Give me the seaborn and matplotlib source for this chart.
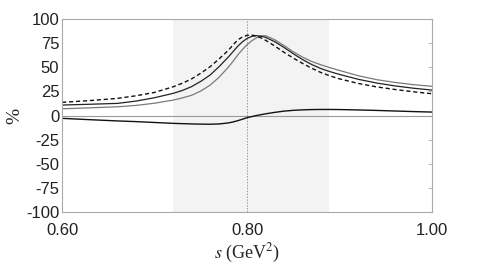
import matplotlib
matplotlib.use("Agg")
import matplotlib.pyplot as plt
import numpy as np
import pandas as pd
import seaborn as sns

# valeurs (s en GeV^2, valeurs en %)
s = [0.60, 0.63, 0.66, 0.68, 0.70, 0.72, 0.73, 0.74, 0.75, 0.76, 0.77,
     0.78, 0.785, 0.79, 0.795, 0.80, 0.805, 0.81, 0.815, 0.82, 0.83, 0.84,
     0.85, 0.86, 0.87, 0.88, 0.89, 0.90, 0.92, 0.94, 0.96, 0.98, 1.00]

dashed = [13.7, 15.5, 17.8, 20.5, 24.0, 29.8, 33.5, 38.0, 44.0, 50.6, 59.0,
          67.9, 73.5, 78.5, 81.5, 83.2, 83.4, 82.5, 80.5, 78.0, 72.0, 65.5,
          59.5, 54.0, 49.0, 44.5, 41.0, 38.0, 33.3, 29.7, 27.0, 24.6, 22.6]
black = [10.9, 11.7, 12.6, 15.0, 18.5, 23.0, 26.0, 30.0, 35.5, 42.0, 51.0,
         61.0, 66.5, 72.0, 76.5, 80.0, 82.0, 82.8, 82.3, 81.0, 76.5, 70.5,
         64.0, 58.0, 52.8, 48.6, 45.4, 42.6, 37.6, 33.7, 30.7, 28.3, 26.4]
grey = [7.0, 8.0, 9.1, 10.5, 12.8, 16.0, 18.3, 21.0, 25.5, 31.5, 40.0,
        50.5, 56.5, 63.0, 68.5, 73.5, 77.5, 80.5, 82.5, 82.8, 78.5, 72.5,
        66.0, 60.5, 56.0, 52.5, 49.5, 46.7, 41.3, 37.2, 34.3, 32.0, 30.3]
lower = [-2.9, -4.3, -5.6, -6.3, -7.2, -8.1, -8.4, -8.7, -8.9, -9.0, -8.7,
         -7.6, -6.6, -5.3, -3.8, -2.2, -1.1, 0.0, 0.9, 1.8, 3.3, 4.6,
         5.4, 5.9, 6.2, 6.3, 6.3, 6.2, 5.8, 5.3, 4.7, 4.1, 3.6]

band = (0.72, 0.888)
s_mark = 0.80
xticks = [0.60, 0.80, 1.00]
yticks = list(range(-100, 101, 25))

df = pd.DataFrame({"s": s, "dashed": dashed, "black": black,
                   "grey": grey, "lower": lower})

sns.set_style("white")
plt.rcParams["font.family"] = ["Liberation Sans", "DejaVu Sans"]
plt.rcParams["mathtext.fontset"] = "stix"

fig = plt.figure(figsize=(4.78, 2.65), dpi=100)
ax = fig.add_axes([0.130, 0.200, 0.774, 0.728])

ax.axvspan(band[0], band[1], color="#f3f3f3", lw=0, zorder=0)
ax.axvline(s_mark, color="#999999", lw=0.7, ls=(0, (1.5, 1.5)), zorder=1)
ax.axhline(0, color="#999999", lw=0.8, zorder=1)

sns.lineplot(data=df, x="s", y="grey", ax=ax, color="#7a7a7a", lw=0.9)
sns.lineplot(data=df, x="s", y="black", ax=ax, color="#222222", lw=0.9)
sns.lineplot(data=df, x="s", y="dashed", ax=ax, color="#111111", lw=1.0,
             linestyle=(0, (3, 2)))
sns.lineplot(data=df, x="s", y="lower", ax=ax, color="#111111", lw=1.0)

ax.set_xlim(0.6, 1.0)
ax.set_ylim(-100, 100)
ax.set_xticks(xticks)
ax.set_xticklabels([f"{v:.2f}" for v in xticks], fontsize=12)
ax.set_yticks(yticks)
ax.set_yticklabels([str(v) for v in yticks], fontsize=12)
ax.tick_params(axis="y", direction="in", length=3, color="#bbbbbb",
               right=True, pad=2, labelcolor="#222222")
ax.tick_params(axis="x", direction="in", length=0, pad=8,
               labelcolor="#222222")

for sp in ax.spines.values():
    sp.set_color("#aaaaaa")
    sp.set_linewidth(0.8)

ax.set_xlabel(r"$s$ (GeV$^2$)", fontsize=13, family="Liberation Serif",
              labelpad=3)
ax.set_ylabel("%", fontsize=14, family="Liberation Serif")
ax.yaxis.set_label_coords(-0.105, 0.5)

fig.savefig("out.png", dpi=100)
